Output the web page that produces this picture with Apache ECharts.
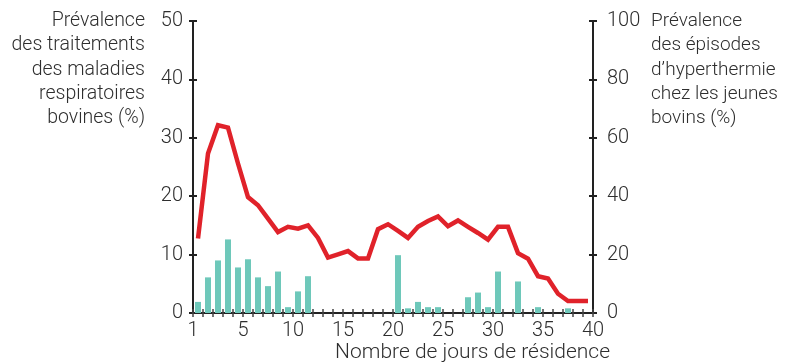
<!DOCTYPE html>
<html>
<head>
<meta charset="utf-8">
<script src="https://cdn.jsdelivr.net/npm/echarts@6/dist/echarts.min.js"></script>
<style>
  html, body { margin: 0; padding: 0; background: #fff; }
  #chart { width: 790px; height: 363px; }
</style>
</head>
<body>
<div id="chart"></div>
<script>
// Days of residence (1..40)
const days = [1, 2, 3, 4, 5, 6, 7, 8, 9, 10,
              11, 12, 13, 14, 15, 16, 17, 18, 19, 20,
              21, 22, 23, 24, 25, 26, 27, 28, 29, 30,
              31, 32, 33, 34, 35, 36, 37, 38, 39, 40];

// Prevalence of BRD treatments (%), left axis
const treatments = [1.9, 6.1, 9.0, 12.6, 7.8, 9.2, 6.1, 4.6, 7.1, 1.0,
                    3.7, 6.3, 0, 0, 0, 0, 0, 0, 0, 0,
                    9.9, 0.8, 1.9, 1.0, 1.0, 0, 0, 2.7, 3.5, 1.0,
                    7.1, 0, 5.4, 0, 1.0, 0, 0, 0.8, 0, 0];

// Prevalence of hyperthermia episodes (%), right axis
const hyperthermia = [25.5, 54.6, 64.3, 63.5, 51.2, 39.7, 36.9, 32.3, 27.7, 29.5,
                      28.9, 30.0, 25.7, 19.0, 20.1, 21.2, 18.7, 18.7, 28.7, 30.4,
                      28.1, 25.7, 29.5, 31.5, 33.1, 29.7, 31.7, 29.5, 27.4, 25.1,
                      29.5, 29.5, 20.5, 18.6, 12.6, 11.8, 6.6, 4.1, 4.1, 4.1];

// x tick labels at axis positions
const xTickPositions = [0, 5, 10, 15, 20, 25, 30, 35, 40];
const xTickLabels = ['1', '5', '10', '15', '20', '25', '30', '35', '40'];

const leftTitle = 'Prévalence\ndes traitements\ndes maladies\nrespiratoires\nbovines (%)';
const rightTitle = 'Prévalence\ndes épisodes\nd\u2019hyperthermie\nchez les jeunes\nbovins (%)';
const xTitle = 'Nombre de jours de résidence';

const FONT = 'Roboto';
const WEIGHT = 300;
const TEXT = '#2e2e2e';
const AXIS = '#222';

const chart = echarts.init(document.getElementById('chart'), null, { renderer: 'canvas' });

const xLabel = v => {
  const i = xTickPositions.indexOf(v);
  return i >= 0 ? xTickLabels[i] : '';
};

const labelStyle = { fontFamily: FONT, fontWeight: WEIGHT, fontSize: 20, color: TEXT };
const font = size => WEIGHT + ' ' + size + 'px "' + FONT + '"';

const baseX = {
  type: 'value', min: 0, max: 40, interval: 1, position: 'bottom',
  splitLine: { show: false }
};
const baseY = { type: 'value', splitLine: { show: false } };

chart.setOption({
  animation: false,
  grid: { left: 193, right: 197, top: 21, bottom: 50, containLabel: false },
  xAxis: [
    Object.assign({}, baseX, {
      axisLine: { show: true, onZero: false, lineStyle: { color: AXIS, width: 2 } },
      axisTick: { show: true, length: 4, lineStyle: { color: '#444', width: 1.5 } },
      axisLabel: Object.assign({ formatter: xLabel, margin: 8 }, labelStyle)
    }),
    Object.assign({}, baseX, {
      axisLine: { show: false, onZero: false },
      axisTick: { show: true, inside: true, length: 4, lineStyle: { color: '#444', width: 1.5 } },
      axisLabel: { show: false }
    })
  ],
  yAxis: [
    Object.assign({}, baseY, {
      position: 'left', min: 0, max: 50, interval: 10,
      axisLine: { show: true, onZero: false, lineStyle: { color: AXIS, width: 2 } },
      axisTick: { show: true, length: 4, lineStyle: { color: AXIS, width: 2 } },
      axisLabel: Object.assign({ margin: 10 }, labelStyle)
    }),
    Object.assign({}, baseY, {
      position: 'right', min: 0, max: 100, interval: 20,
      axisLine: { show: true, onZero: false, lineStyle: { color: AXIS, width: 2 } },
      axisTick: { show: true, length: 4, lineStyle: { color: AXIS, width: 2 } },
      axisLabel: Object.assign({ margin: 14 }, labelStyle)
    }),
    Object.assign({}, baseY, {
      position: 'left', min: 0, max: 50, interval: 10,
      axisLine: { show: false, onZero: false },
      axisTick: { show: true, inside: true, length: 4, lineStyle: { color: AXIS, width: 2 } },
      axisLabel: { show: false }
    }),
    Object.assign({}, baseY, {
      position: 'right', min: 0, max: 100, interval: 20,
      axisLine: { show: false, onZero: false },
      axisTick: { show: true, inside: true, length: 4, lineStyle: { color: AXIS, width: 2 } },
      axisLabel: { show: false }
    })
  ],
  series: [
    {
      type: 'bar',
      xAxisIndex: 0, yAxisIndex: 0,
      barWidth: 6,
      itemStyle: { color: '#6ec8ba' },
      data: days.map((d, i) => [d - 0.5, treatments[i]]),
      z: 2
    },
    {
      type: 'line',
      xAxisIndex: 0, yAxisIndex: 1,
      showSymbol: false,
      lineStyle: { color: '#e0222a', width: 4.5, join: 'miter' },
      data: days.map((d, i) => [d - 0.5, hyperthermia[i]]),
      z: 3
    }
  ],
  graphic: [
    {
      type: 'text', right: 790 - 145, top: 9,
      style: { text: leftTitle, font: font(19.5), fill: TEXT, textAlign: 'right', lineHeight: 24.3 }
    },
    {
      type: 'text', left: 651, top: 9,
      style: { text: rightTitle, font: font(19), fill: TEXT, textAlign: 'left', lineHeight: 24.3 }
    },
    {
      type: 'text', right: 790 - 610, top: 341,
      style: { text: xTitle, font: font(21), fill: TEXT, lineHeight: 23 }
    }
  ]
});
</script>
</body>
</html>
